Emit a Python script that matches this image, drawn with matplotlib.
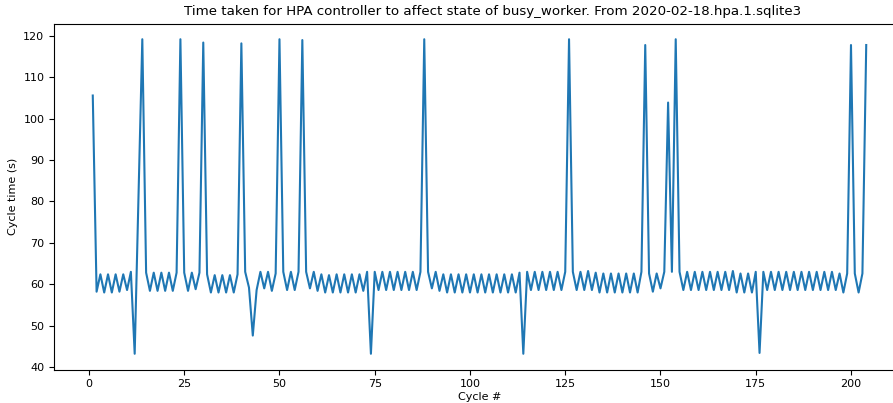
import matplotlib
matplotlib.use("Agg")
import matplotlib.pyplot as plt

# cycle numbers run 1..204
cycles = list(range(1, 205))

# cycle times (s)
cycle_times = [
    105.6, 58.2, 62.4, 58.0, 62.4, 58.0, 62.4, 58.2, 62.4, 58.6,   # 1-10
    63.0, 43.2, 81.0, 119.2, 62.8, 58.4, 62.8, 58.4, 62.8, 58.4,   # 11-20
    62.8, 58.4, 62.8, 119.2, 62.8, 58.4, 62.8, 58.8, 62.8, 118.4,  # 21-30
    62.4, 58.0, 62.2, 58.0, 62.2, 58.0, 62.2, 58.0, 62.4, 118.2,   # 31-40
    63.0, 59.2, 47.6, 58.6, 63.0, 59.0, 63.0, 58.4, 62.6, 119.2,   # 41-50
    63.0, 58.6, 63.0, 58.6, 63.0, 119.0, 63.0, 59.0, 63.0, 58.4,   # 51-60
    62.4, 58.0, 62.2, 58.0, 62.4, 58.0, 62.4, 58.0, 62.4, 58.0,    # 61-70
    62.4, 58.4, 63.0, 43.2, 63.0, 58.6, 63.0, 58.6, 63.0, 58.6,    # 71-80
    63.0, 58.6, 63.0, 58.6, 63.0, 58.6, 63.0, 119.2, 63.0, 59.0,   # 81-90
    63.0, 58.4, 62.4, 58.0, 62.4, 58.0, 62.4, 58.0, 62.4, 58.0,    # 91-100
    62.4, 58.0, 62.4, 58.0, 62.4, 58.0, 62.4, 58.0, 62.4, 58.0,    # 101-110
    62.4, 58.0, 62.8, 43.2, 63.0, 58.6, 63.0, 58.6, 63.0, 58.6,    # 111-120
    63.0, 58.6, 63.0, 58.6, 63.0, 119.2, 63.0, 58.6, 63.0, 58.6,   # 121-130
    63.2, 58.6, 62.8, 58.0, 62.6, 58.0, 62.6, 58.0, 62.6, 58.0,    # 131-140
    62.6, 58.0, 62.6, 58.0, 63.0, 117.8, 62.6, 58.2, 62.6, 59.0,   # 141-150
    63.0, 103.9, 63.0, 119.2, 63.0, 58.6, 63.0, 58.6, 63.0, 58.6,  # 151-160
    63.0, 58.6, 63.0, 58.6, 63.0, 58.6, 63.0, 58.6, 63.2, 58.0,    # 161-170
    62.6, 58.0, 62.6, 58.0, 63.0, 43.4, 63.0, 58.6, 63.0, 58.6,    # 171-180
    63.0, 58.6, 63.0, 58.6, 63.0, 58.6, 63.0, 58.6, 63.0, 58.6,    # 181-190
    63.0, 58.6, 63.0, 58.6, 63.0, 58.6, 62.6, 58.0, 62.6, 117.8,   # 191-200
    62.6, 58.0, 62.6, 117.8,                                       # 201-204
]

fig = plt.figure(figsize=(8.93, 4.03), dpi=100)
# axes run past the right edge like the cropped original
ax = fig.add_axes([54.1 / 893, 33.5 / 403, 850.8 / 893, 346.0 / 403])
ax.plot(cycles, cycle_times, color="#1f77b4", linewidth=1.5)

ax.set_title("Time taken for HPA controller to affect state of busy_worker. "
             "From 2020-02-18.hpa.1.sqlite3", fontsize=9.6, x=0.515)
ax.set_xlabel("Cycle #", fontsize=8, labelpad=2)
ax.set_ylabel("Cycle time (s)", fontsize=8)
ax.tick_params(labelsize=8)
ax.set_xticks([0, 25, 50, 75, 100, 125, 150, 175, 200])
ax.set_yticks([40, 50, 60, 70, 80, 90, 100, 110, 120])

fig.savefig("out.png", dpi=100)
